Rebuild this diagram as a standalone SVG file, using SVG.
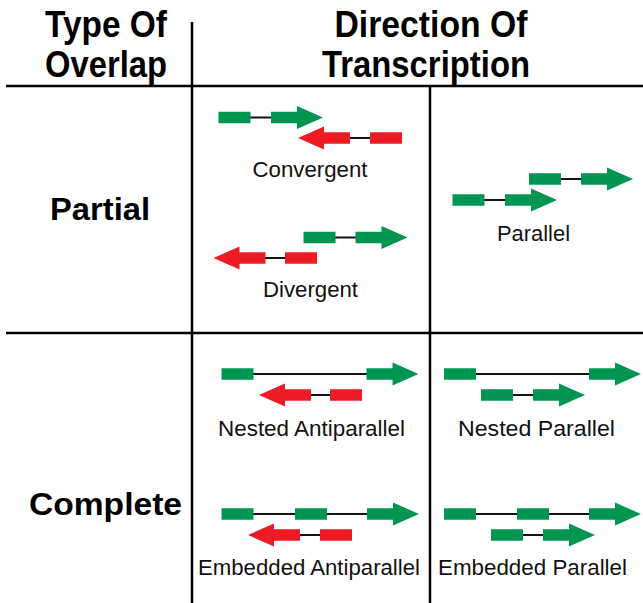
<svg xmlns="http://www.w3.org/2000/svg" xmlns:xlink="http://www.w3.org/1999/xlink" width="643" height="603" viewBox="0 0 643 603">
<style>
.g{fill:#009652}
.r{fill:#ed1c24}
.grid{stroke:#000;stroke-width:2.5;fill:none}
.in{stroke:#111;stroke-width:2;fill:none}
.h{font-family:"Liberation Sans",Arial,sans-serif;font-weight:bold;font-size:36px;fill:#000;text-anchor:middle}
.rowh{font-family:"Liberation Sans",Arial,sans-serif;font-weight:bold;font-size:32px;fill:#000;text-anchor:middle}
.lbl{font-family:"Liberation Sans",Arial,sans-serif;font-size:21.5px;fill:#111;text-anchor:middle}
</style>
<defs>
<polygon id="arr" points="0,-5.75 26,-5.75 26,-11.5 52,0 26,11.5 26,5.75 0,5.75"/>
<rect id="box" x="0" y="-5.75" width="32" height="11.5"/>
</defs>
<rect width="643" height="603" fill="#fff"/>
<g id="grid">
<line class="grid" x1="192" y1="22" x2="192" y2="603"/>
<line class="grid" x1="430" y1="86" x2="430" y2="603"/>
<line class="grid" x1="6" y1="86" x2="643" y2="86"/>
<line class="grid" x1="6" y1="333" x2="643" y2="333"/>
</g>
<g id="headers">
<text class="h" x="106" y="37" textLength="122" lengthAdjust="spacingAndGlyphs">Type Of</text>
<text class="h" x="106" y="77" textLength="122" lengthAdjust="spacingAndGlyphs">Overlap</text>
<text class="h" x="431" y="37" textLength="193" lengthAdjust="spacingAndGlyphs">Direction Of</text>
<text class="h" x="426" y="77" textLength="208" lengthAdjust="spacingAndGlyphs">Transcription</text>
<text class="rowh" x="100" y="220" textLength="100" lengthAdjust="spacingAndGlyphs">Partial</text>
<text class="rowh" x="105.5" y="515" textLength="153" lengthAdjust="spacingAndGlyphs">Complete</text>
</g>
<g id="convergent">
<line class="in" x1="250" y1="117.5" x2="272" y2="117.5"/>
<use href="#box" xlink:href="#box" class="g" transform="translate(218.5,117.5)"/>
<use href="#arr" xlink:href="#arr" class="g" transform="translate(271,117.5)"/>
<line class="in" x1="349" y1="138" x2="371" y2="138"/>
<use href="#arr" xlink:href="#arr" class="r" transform="translate(350,138) scale(-1,1)"/>
<use href="#box" xlink:href="#box" class="r" transform="translate(370,138)"/>
<text class="lbl" x="310" y="177" textLength="115" lengthAdjust="spacingAndGlyphs">Convergent</text>
</g>
<g id="divergent">
<line class="in" x1="335" y1="237.5" x2="356" y2="237.5"/>
<use href="#box" xlink:href="#box" class="g" transform="translate(303.5,237.5)"/>
<use href="#arr" xlink:href="#arr" class="g" transform="translate(355.5,237.5)"/>
<line class="in" x1="265" y1="258" x2="286" y2="258"/>
<use href="#arr" xlink:href="#arr" class="r" transform="translate(265.5,258) scale(-1,1)"/>
<use href="#box" xlink:href="#box" class="r" transform="translate(285,258)"/>
<text class="lbl" x="310.5" y="297" textLength="95" lengthAdjust="spacingAndGlyphs">Divergent</text>
</g>
<g id="parallel">
<line class="in" x1="560" y1="179" x2="582" y2="179"/>
<use href="#box" xlink:href="#box" class="g" transform="translate(529,179)"/>
<use href="#arr" xlink:href="#arr" class="g" transform="translate(581,179)"/>
<line class="in" x1="484" y1="200" x2="506" y2="200"/>
<use href="#box" xlink:href="#box" class="g" transform="translate(452.5,200)"/>
<use href="#arr" xlink:href="#arr" class="g" transform="translate(505,200)"/>
<text class="lbl" x="533.5" y="241" textLength="73" lengthAdjust="spacingAndGlyphs">Parallel</text>
</g>
<g id="nested-antiparallel">
<line class="in" x1="253" y1="374" x2="367" y2="374"/>
<use href="#box" xlink:href="#box" class="g" transform="translate(221.5,374)"/>
<use href="#arr" xlink:href="#arr" class="g" transform="translate(366.5,374)"/>
<line class="in" x1="310" y1="395" x2="331" y2="395"/>
<use href="#arr" xlink:href="#arr" class="r" transform="translate(311,395) scale(-1,1)"/>
<use href="#box" xlink:href="#box" class="r" transform="translate(330,395)"/>
<text class="lbl" x="311.5" y="436" textLength="187" lengthAdjust="spacingAndGlyphs">Nested Antiparallel</text>
</g>
<g id="nested-parallel">
<line class="in" x1="475" y1="374" x2="590" y2="374"/>
<use href="#box" xlink:href="#box" class="g" transform="translate(444,374)"/>
<use href="#arr" xlink:href="#arr" class="g" transform="translate(589,374)"/>
<line class="in" x1="512" y1="395" x2="534" y2="395"/>
<use href="#box" xlink:href="#box" class="g" transform="translate(481,395)"/>
<use href="#arr" xlink:href="#arr" class="g" transform="translate(533,395)"/>
<text class="lbl" x="536.5" y="436" textLength="157" lengthAdjust="spacingAndGlyphs">Nested Parallel</text>
</g>
<g id="embedded-antiparallel">
<line class="in" x1="253" y1="514" x2="368" y2="514"/>
<use href="#box" xlink:href="#box" class="g" transform="translate(221.5,514)"/>
<use href="#box" xlink:href="#box" class="g" transform="translate(295,514)"/>
<use href="#arr" xlink:href="#arr" class="g" transform="translate(367,514)"/>
<line class="in" x1="299" y1="535" x2="321" y2="535"/>
<use href="#arr" xlink:href="#arr" class="r" transform="translate(300,535) scale(-1,1)"/>
<use href="#box" xlink:href="#box" class="r" transform="translate(320,535)"/>
<text class="lbl" x="309" y="575" textLength="222" lengthAdjust="spacingAndGlyphs">Embedded Antiparallel</text>
</g>
<g id="embedded-parallel">
<line class="in" x1="475" y1="514" x2="590" y2="514"/>
<use href="#box" xlink:href="#box" class="g" transform="translate(444,514)"/>
<use href="#box" xlink:href="#box" class="g" transform="translate(517,514)"/>
<use href="#arr" xlink:href="#arr" class="g" transform="translate(589,514)"/>
<line class="in" x1="522" y1="535" x2="544" y2="535"/>
<use href="#box" xlink:href="#box" class="g" transform="translate(491,535)"/>
<use href="#arr" xlink:href="#arr" class="g" transform="translate(543,535)"/>
<text class="lbl" x="532.5" y="575" textLength="189" lengthAdjust="spacingAndGlyphs">Embedded Parallel</text>
</g>
</svg>
